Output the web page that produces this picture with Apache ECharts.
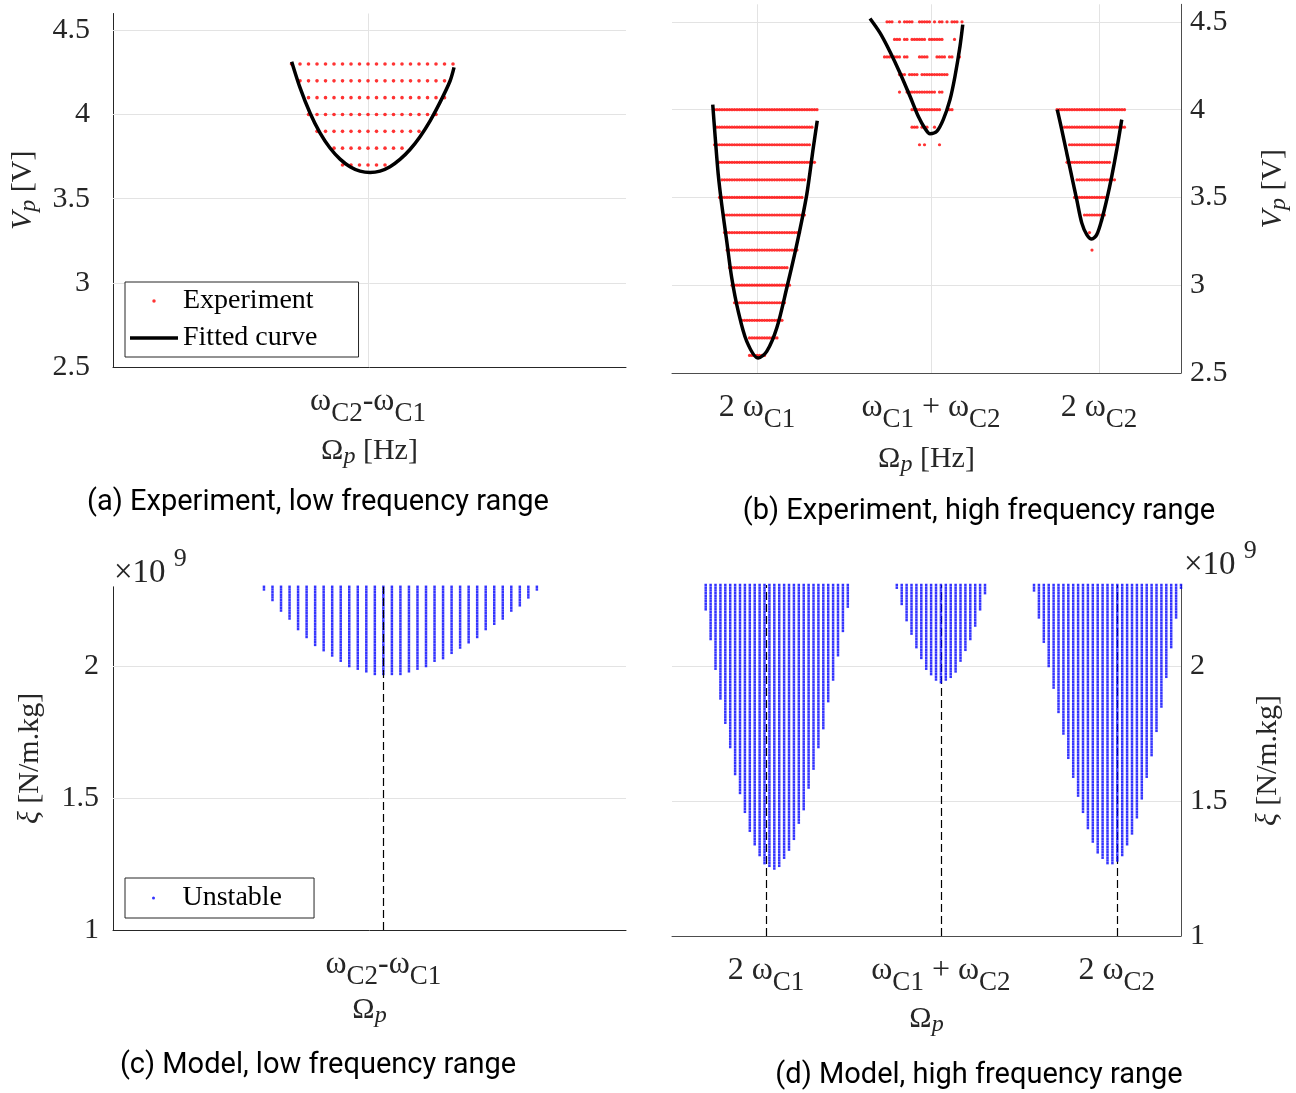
<!DOCTYPE html>
<html>
<head>
<meta charset="utf-8">
<script src="https://cdn.jsdelivr.net/npm/echarts@6/dist/echarts.min.js"></script>
<style>
  html, body { margin: 0; padding: 0; background: #fff; }
  #chart { width: 1296px; height: 1093px; }
</style>
</head>
<body>
<div id="chart"></div>
<script>
const SERIF = "'Liberation Serif', 'Times New Roman', serif";
const SANS = "Roboto, 'Noto Sans', sans-serif";
const INK = '#262626';
const AXIS_R = '#4d4d4d';

// ---------- tick positions and labels ----------
const yTicksExp = [2.5, 3, 3.5, 4, 4.5];
const yTicksModel = [1, 1.5, 2];

const xTicksA = [0];
const xLabelsA = ['{w|ω}{s|C2}{w|-}{w|ω}{s|C1}'];
const xTicksB = [34, 103.6, 170.8];
const xLabelsB = ['{w|2 ω}{s|C1}', '{w|ω}{s|C1}{w| + ω}{s|C2}', '{w|2 ω}{s|C2}'];
const xTicksC = [0];
const xLabelsC = ['{w|ω}{s|C2}{w|-}{w|ω}{s|C1}'];
const xTicksD = [12.3, 48.0, 83.9];
const xLabelsD = ['{w|2 ω}{s|C1}', '{w|ω}{s|C1}{w| + ω}{s|C2}', '{w|2 ω}{s|C2}'];

// ---------- (a) experiment, low frequency range ----------
// each row: [Vp, first sweep step, last sweep step]
const expLowRows = [
  [4.3, -9, 10], [4.2, -8, 9], [4.1, -7, 9], [4.0, -7, 8],
  [3.9, -6, 6], [3.8, -4, 4], [3.7, -3, 2]
];
const expLowFit = [
  [-8.98, 4.314], [-8.0, 4.160], [-6.82, 4.009], [-5.65, 3.891], [-4.47, 3.801],
  [-3.29, 3.735], [-2.12, 3.690], [-0.94, 3.664], [0.24, 3.656], [1.41, 3.664],
  [2.59, 3.690], [3.76, 3.733], [4.94, 3.792], [6.12, 3.868], [7.29, 3.961],
  [8.47, 4.072], [9.65, 4.199], [10.12, 4.280]
];

// ---------- (b) experiment, high frequency range ----------
// each row: [Vp, [[first step, last step], ...]]
const expHighRows2C1 = [
  [4.0, [[17, 58]]], [3.9, [[18, 56]]], [3.8, [[17, 55]]], [3.7, [[19, 57]]],
  [3.6, [[20, 53]]], [3.5, [[19, 52]]], [3.4, [[21, 53]]], [3.3, [[21, 51]]],
  [3.2, [[22, 50]]], [3.1, [[23, 46]]], [3.0, [[24, 47]]], [2.9, [[25, 45]]],
  [2.8, [[28, 44]]], [2.7, [[31, 42]]], [2.6, [[31, 37]]]
];
const expHighRowsSum = [
  [4.5, [[86, 88], [91, 91], [93, 96], [99, 103], [105, 105], [107, 108], [110, 110], [112, 114], [116, 116]]],
  [4.4, [[89, 91], [93, 94], [96, 101], [103, 108], [113, 113]]],
  [4.3, [[85, 87], [89, 91], [93, 94], [99, 102], [106, 109], [111, 112], [115, 115]]],
  [4.2, [[91, 93], [95, 98], [100, 105], [106, 107], [108, 110]]],
  [4.1, [[91, 91], [94, 99], [100, 105], [107, 108]]],
  [4.0, [[96, 107], [110, 112]]],
  [3.9, [[96, 98], [100, 102], [105, 105]]],
  [3.8, [[99, 99], [101, 101], [107, 107]]]
];
const expHighRows2C2 = [
  [4.0, [[154, 181]]], [3.9, [[157, 181]]], [3.8, [[159, 177]]], [3.7, [[158, 175]]],
  [3.6, [[162, 177]]], [3.5, [[161, 173]]], [3.4, [[165, 173]]], [3.3, [[167, 167]]],
  [3.2, [[168, 168]]]
];
const expHighFit2C1 = [
  [16.3, 4.028], [17.2, 3.858], [18.5, 3.630], [19.9, 3.459], [21.9, 3.250],
  [23.9, 3.041], [26.5, 2.851], [29.9, 2.680], [34.5, 2.585], [37.9, 2.623],
  [41.9, 2.756], [45.9, 2.984], [49.9, 3.231], [53.9, 3.516], [56.5, 3.782], [58.1, 3.937]
];
const expHighFitSum = [
  [79.2, 4.519], [83.2, 4.437], [87.2, 4.330], [91.2, 4.209], [95.2, 4.076],
  [98.5, 3.962], [101.2, 3.893], [103.2, 3.863], [105.9, 3.876], [108.5, 3.943],
  [111.2, 4.057], [113.2, 4.19], [115.2, 4.361], [116.3, 4.484]
];
const expHighFit2C2 = [
  [154.1, 4.0], [155.9, 3.886], [157.9, 3.753], [159.9, 3.620], [161.9, 3.487],
  [163.9, 3.355], [165.9, 3.288], [167.9, 3.263], [169.9, 3.288], [171.9, 3.373],
  [173.9, 3.487], [175.9, 3.620], [177.9, 3.772], [179.9, 3.943]
];

// ---------- (c) model, low frequency range (xi in 1e9 N/m.kg) ----------
// each column: [frequency step, lowest unstable xi]; unstable up to XI_TOP
const modelLowCols = [
  [-14, 2.288], [-13, 2.250], [-12, 2.208], [-11, 2.178], [-10, 2.140], [-9, 2.110],
  [-8, 2.077], [-7, 2.057], [-6, 2.039], [-5, 2.019], [-4, 2.000], [-3, 1.989],
  [-2, 1.977], [-1, 1.968], [0, 1.962], [1, 1.968], [2, 1.970], [3, 1.977],
  [4, 1.989], [5, 2.000], [6, 2.019], [7, 2.029], [8, 2.047], [9, 2.069],
  [10, 2.087], [11, 2.109], [12, 2.139], [13, 2.158], [14, 2.178], [15, 2.208],
  [16, 2.228], [17, 2.256], [18, 2.288]
];

// ---------- (d) model, high frequency range ----------
// lowest unstable xi per frequency step, starting at the given step
const modelHigh2C1Start = 0;
const modelHigh2C1 = [
  2.204, 2.093, 1.981, 1.880, 1.781, 1.693, 1.600, 1.522, 1.451, 1.389,
  1.340, 1.300, 1.269, 1.257, 1.248, 1.257, 1.288, 1.315, 1.356, 1.411,
  1.469, 1.541, 1.611, 1.693, 1.769, 1.864, 1.942, 2.034, 2.123, 2.214
];
const modelHighSumStart = 39;
const modelHighSum = [
  2.285, 2.226, 2.164, 2.115, 2.063, 2.022, 1.985, 1.964, 1.944, 1.936,
  1.944, 1.954, 1.977, 2.014, 2.056, 2.096, 2.146, 2.204, 2.266
];
const modelHigh2C2Start = 67;
const modelHigh2C2 = [
  2.275, 2.174, 2.084, 1.991, 1.911, 1.821, 1.742, 1.660, 1.581, 1.520,
  1.451, 1.399, 1.350, 1.310, 1.288, 1.269, 1.269, 1.278, 1.300, 1.340,
  1.380, 1.438, 1.510, 1.581, 1.670, 1.759, 1.849, 1.952, 2.063, 2.177, 2.285
];
const XI_TOP = 2.3;     // upper end of the xi sweep
const XI_STEP = 0.01;   // xi sweep resolution

// ---------- helpers that expand sweep records into points ----------
function rowsToPoints(rows) {
  const pts = [];
  rows.forEach(([v, a, b]) => { for (let k = a; k <= b; k++) pts.push([k, v]); });
  return pts;
}
function segRowsToPoints(rows) {
  const pts = [];
  rows.forEach(([v, segs]) => segs.forEach(([a, b]) => {
    for (let k = a; k <= b; k++) pts.push([k, v]);
  }));
  return pts;
}
function columnsToPoints(cols) {
  const pts = [];
  cols.forEach(([x, low]) => {
    const n = Math.floor((XI_TOP - low) / XI_STEP + 1e-6);
    for (let i = 0; i <= n; i++) pts.push([x, +(XI_TOP - i * XI_STEP).toFixed(4)]);
  });
  return pts;
}
function startColumns(start, lows) { return lows.map((v, i) => [start + i, v]); }

// ---------- text styles ----------
const RICH = {
  w: { fontFamily: SERIF, fontSize: 32, color: INK, padding: [0, 0, 12, 0] },
  s: { fontFamily: SERIF, fontSize: 27, color: INK, padding: [12, 0, 0, 0] },
  O: { fontFamily: SERIF, fontSize: 30, color: INK },
  p: { fontFamily: SERIF, fontSize: 24, fontStyle: 'italic', color: INK, padding: [12, 0, 0, 0] },
  vi: { fontFamily: SERIF, fontSize: 30, fontStyle: 'italic', color: INK }
};

function pickLabel(ticks, labels) {
  return (v) => {
    for (let i = 0; i < ticks.length; i++) if (Math.abs(ticks[i] - v) < 1e-6) return labels[i];
    return '';
  };
}

function xAxisDef(gridIndex, min, max, ticks, labels, name, nameGap, color) {
  return {
    type: 'value', gridIndex, min, max, position: 'bottom',
    axisLine: { show: true, onZero: false, lineStyle: { color, width: 1 } },
    axisTick: { show: true, inside: true, length: 5, customValues: ticks, lineStyle: { color } },
    axisLabel: { customValues: ticks, margin: 19, formatter: pickLabel(ticks, labels), rich: RICH },
    splitLine: { show: false },
    name, nameLocation: 'middle', nameGap, nameMoveOverlap: false,
    nameTextStyle: { rich: RICH }
  };
}
function yAxisDef(gridIndex, min, max, ticks, side, margin, name, nameGap, color) {
  return {
    type: 'value', gridIndex, min, max, position: side,
    axisLine: { show: true, onZero: false, lineStyle: { color, width: 1 } },
    axisTick: { show: true, inside: true, length: 5, customValues: ticks, lineStyle: { color } },
    axisLabel: { customValues: ticks, margin, fontFamily: SERIF, fontSize: 30, color: INK },
    splitLine: { show: false },
    name, nameLocation: 'middle', nameGap, nameRotate: 90, nameMoveOverlap: false,
    nameTextStyle: { rich: RICH }
  };
}

// light grid lines through the tick positions, kept beneath the marks
function gridSeries(idx, yVals, xVals) {
  return {
    type: 'line', xAxisIndex: idx, yAxisIndex: idx, data: [], silent: true, z: 1,
    markLine: {
      z: 1, silent: true, symbol: ['none', 'none'], animation: false,
      label: { show: false },
      lineStyle: { color: '#e3e3e3', width: 1, type: 'solid' },
      emphasis: { disabled: true },
      data: [...yVals.map(v => ({ yAxis: v })), ...xVals.map(v => ({ xAxis: v }))]
    }
  };
}
// dashed markers at the combination frequencies
function dashedMarks(xVals) {
  return {
    z: 20, silent: true, symbol: ['none', 'none'], animation: false,
    label: { show: false },
    lineStyle: { color: '#000', width: 1.2, type: [8, 4] },
    emphasis: { disabled: true },
    data: xVals.map(v => ({ xAxis: v }))
  };
}

const redDot = { type: 'scatter', name: 'Experiment', symbol: 'circle', itemStyle: { color: '#ff0000' }, z: 10, animation: false, silent: true };
const fitLine = { type: 'line', name: 'Fitted curve', smooth: 0.3, symbol: 'none', showSymbol: false,
  lineStyle: { color: '#000', width: 3.5 }, itemStyle: { color: '#000' }, z: 12, animation: false, silent: true };
const blueDot = { type: 'scatter', name: 'Unstable', symbol: 'rect', symbolSize: 2.5, itemStyle: { color: '#0000ff' }, z: 10, animation: false, silent: true };

const chart = echarts.init(document.getElementById('chart'), null, { renderer: 'canvas' });

const expo = (x, y) => ({
  type: 'text', x, y, z: 30,
  style: {
    text: '{a|×10 }{e|9}', align: 'left', verticalAlign: 'middle',
    rich: {
      a: { fontFamily: SERIF, fontSize: 33, fill: INK, padding: [14, 0, 0, 0] },
      e: { fontFamily: SERIF, fontSize: 26, fill: INK, padding: [0, 0, 14, 0] }
    }
  }
});
const caption = (x, y, text) => ({
  type: 'text', x, y,
  style: { text, font: '29px ' + SANS, fill: '#000', align: 'center', verticalAlign: 'middle' }
});

chart.setOption({
  backgroundColor: '#fff',
  animation: false,
  grid: [
    { left: 113, top: 13.5, width: 513, height: 353.5, containLabel: false, outerBoundsMode: 'none' },
    { left: 672, top: 4.3, width: 509, height: 368.7, containLabel: false, outerBoundsMode: 'none' },
    { left: 113, top: 586.8, width: 513, height: 343.2, containLabel: false, outerBoundsMode: 'none' },
    { left: 672, top: 585, width: 509, height: 351, containLabel: false, outerBoundsMode: 'none' }
  ],
  xAxis: [
    xAxisDef(0, -30, 30.35, xTicksA, xLabelsA, '{O|Ω}{p|p}{O| [Hz]}', 66, INK),
    xAxisDef(1, 0, 203.6, xTicksB, xLabelsB, '{O|Ω}{p|p}{O| [Hz]}', 68, AXIS_R),
    xAxisDef(2, -31.7, 28.45, xTicksC, xLabelsC, '{O|Ω}{p|p}', 62, INK),
    xAxisDef(3, -6.88, 97.0, xTicksD, xLabelsD, '{O|Ω}{p|p}', 65, AXIS_R)
  ],
  yAxis: [
    yAxisDef(0, 2.5, 4.6, yTicksExp, 'left', 23, '{vi|V}{p|p}{O| [V]}', 72, INK),
    yAxisDef(1, 2.5, 4.6, yTicksExp, 'right', 9, '{vi|V}{p|p}{O| [V]}', 74, AXIS_R),
    yAxisDef(2, 1, 2.3, yTicksModel, 'left', 14, '{vi|ξ}{O| [N/m.kg]}', 68, INK),
    yAxisDef(3, 1, 2.3, yTicksModel, 'right', 9, '{vi|ξ}{O| [N/m.kg]}', 72, AXIS_R)
  ],
  legend: [
    {
      data: [
        { name: 'Experiment', icon: 'circle' },
        { name: 'Fitted curve', icon: 'rect', itemStyle: { color: '#000' } }
      ],
      orient: 'vertical', left: 125, top: 282, padding: [5, 41, 5, 5],
      itemWidth: 48, itemHeight: 3.5, itemGap: 9, selectedMode: false,
      borderColor: INK, borderWidth: 1, backgroundColor: '#fff',
      textStyle: { fontFamily: SERIF, fontSize: 28, color: '#000' }
    },
    {
      data: [{ name: 'Unstable', icon: 'circle' }],
      orient: 'vertical', left: 125, top: 878, padding: [6, 32, 6, 27],
      itemWidth: 48, itemHeight: 3, selectedMode: false,
      borderColor: INK, borderWidth: 1, backgroundColor: '#fff',
      textStyle: { fontFamily: SERIF, fontSize: 28, color: '#000' }
    }
  ],
  series: [
    gridSeries(0, [3, 3.5, 4, 4.5], xTicksA),
    Object.assign({}, redDot, { xAxisIndex: 0, yAxisIndex: 0, symbolSize: 3.6, data: rowsToPoints(expLowRows) }),
    Object.assign({}, fitLine, { xAxisIndex: 0, yAxisIndex: 0, data: expLowFit }),

    gridSeries(1, [3, 3.5, 4, 4.5], xTicksB),
    Object.assign({}, redDot, { xAxisIndex: 1, yAxisIndex: 1, symbolSize: 3.2,
      data: segRowsToPoints(expHighRows2C1).concat(segRowsToPoints(expHighRowsSum), segRowsToPoints(expHighRows2C2)) }),
    Object.assign({}, fitLine, { xAxisIndex: 1, yAxisIndex: 1, data: expHighFit2C1 }),
    Object.assign({}, fitLine, { xAxisIndex: 1, yAxisIndex: 1, data: expHighFitSum }),
    Object.assign({}, fitLine, { xAxisIndex: 1, yAxisIndex: 1, data: expHighFit2C2 }),

    gridSeries(2, [1.5, 2], []),
    Object.assign({}, blueDot, { xAxisIndex: 2, yAxisIndex: 2, data: columnsToPoints(modelLowCols),
      markLine: dashedMarks(xTicksC) }),

    gridSeries(3, [1.5, 2], []),
    Object.assign({}, blueDot, { xAxisIndex: 3, yAxisIndex: 3,
      data: columnsToPoints(startColumns(modelHigh2C1Start, modelHigh2C1)
        .concat(startColumns(modelHighSumStart, modelHighSum), startColumns(modelHigh2C2Start, modelHigh2C2))),
      markLine: dashedMarks(xTicksD) })
  ],
  graphic: [
    caption(318, 503, '(a) Experiment, low frequency range'),
    caption(979, 512, '(b) Experiment, high frequency range'),
    caption(318, 1066, '(c) Model, low frequency range'),
    caption(979, 1076, '(d) Model, high frequency range'),
    expo(114, 566),
    expo(1184, 558)
  ]
});
</script>
</body>
</html>
